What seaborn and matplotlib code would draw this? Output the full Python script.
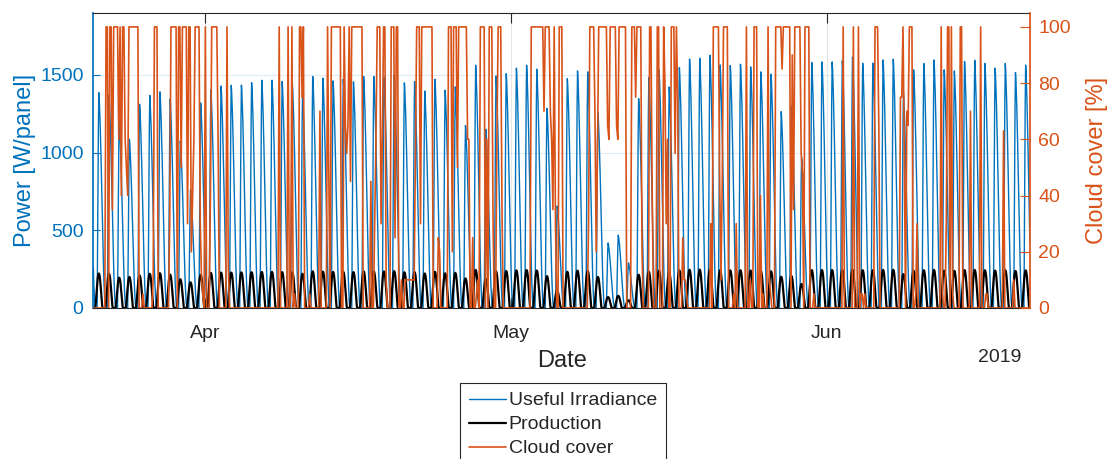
import numpy as np
import pandas as pd
import matplotlib
matplotlib.use("Agg")
import matplotlib.pyplot as plt
import matplotlib.dates as mdates
import seaborn as sns

# ---------------- data ----------------
start_date = "2019-03-21"
n_days = 92

# daily peak of useful irradiance [W/panel]
irr_peak = [1386, 1369, 1215, 1086, 1311, 1369, 1391, 1344, 1075, 760,
            1320, 1404, 1429, 1433, 1435, 1451, 1466, 1466, 1458, 1440,
            1380, 1490, 1479, 1462, 1473, 1456, 1490, 1490, 1487, 1498,
            1449, 1457, 1397, 1472, 1402, 1423, 1175, 1563, 1150, 1494,
            1508, 1544, 1563, 1537, 1285, 656, 1476, 1526, 1520, 1257,
            419, 469, 290, 1348, 1483, 1533, 1423, 1547, 1602, 1608,
            1627, 1565, 1560, 1569, 1552, 1520, 1505, 1264, 1300, 967,
            1580, 1584, 1584, 1591, 1615, 1576, 1576, 1597, 1602, 1386,
            1533, 1574, 1597, 1533, 1526, 1587, 1595, 1574, 1544, 1574,
            1516, 1563]

# daily peak of production [W/panel]
prod_peak = [222, 220, 195, 200, 210, 220, 224, 215, 185, 165,
             212, 226, 228, 228, 229, 230, 232, 232, 231, 229,
             220, 236, 234, 232, 233, 231, 236, 236, 235, 237,
             230, 231, 222, 233, 223, 226, 190, 245, 186, 236,
             238, 242, 244, 241, 205, 110, 233, 240, 239, 200,
             70, 78, 50, 214, 234, 240, 226, 242, 246, 247,
             248, 243, 242, 243, 241, 238, 236, 201, 206, 155,
             244, 244, 244, 245, 247, 243, 243, 245, 246, 218,
             240, 243, 245, 240, 239, 244, 245, 243, 241, 243,
             238, 242]

# hourly shape of irradiance, hours after 09:00 (fraction of daily peak)
irr_shape = [0.0, 0.3, 0.6, 0.85, 1.0, 0.97, 0.92, 0.86, 0.79, 0.71,
             0.62, 0.53, 0.44, 0.35, 0.27, 0.19, 0.12, 0.07, 0.03, 0.01,
             0.0, 0.0, 0.0, 0.0]
irr_start_hour = 9

# hourly shape of production by hour of day (fraction of daily peak)
prod_shape = [0.0, 0.0, 0.0, 0.0, 0.0, 0.05, 0.18, 0.35, 0.52, 0.68,
              0.82, 0.92, 0.98, 1.0, 0.98, 0.92, 0.82, 0.68, 0.52, 0.35,
              0.18, 0.05, 0.0, 0.0]

# cloud cover [%], 3-hourly samples (00,03,...,21 h) for each day
cloud_cover = [
    [0, 0, 0, 0, 0, 0, 0, 0],
    [0, 0, 100, 100, 0, 100, 100, 35],
    [100, 100, 100, 100, 60, 100, 40, 100],
    [100, 60, 50, 40, 100, 100, 100, 100],
    [100, 100, 100, 100, 0, 0, 0, 5],
    [0, 0, 0, 0, 0, 0, 0, 10],
    [100, 100, 100, 0, 0, 0, 0, 0],
    [0, 0, 0, 0, 30, 100, 100, 100],
    [100, 100, 0, 100, 100, 50, 100, 100],
    [100, 100, 30, 100, 100, 20, 40, 60],
    [100, 100, 100, 100, 30, 10, 5, 0],
    [100, 0, 0, 0, 40, 100, 100, 100],
    [100, 100, 60, 0, 0, 0, 0, 0],
    [0, 100, 15, 0, 0, 0, 0, 0],
    [0, 0, 0, 0, 0, 0, 0, 0],
    [0, 0, 0, 0, 0, 0, 0, 0],
    [0, 0, 0, 0, 0, 0, 0, 0],
    [0, 0, 0, 0, 0, 0, 0, 0],
    [0, 0, 100, 0, 0, 0, 0, 0],
    [0, 100, 0, 5, 100, 0, 5, 0],
    [0, 0, 100, 100, 75, 100, 0, 0],
    [0, 0, 5, 0, 0, 0, 0, 0],
    [0, 0, 70, 0, 0, 0, 0, 0],
    [100, 45, 0, 100, 100, 100, 100, 100],
    [100, 100, 100, 0, 0, 100, 65, 55],
    [65, 100, 45, 100, 100, 100, 100, 100],
    [100, 100, 100, 100, 0, 0, 0, 0],
    [0, 0, 45, 0, 0, 30, 60, 100],
    [100, 100, 30, 60, 100, 100, 10, 0],
    [0, 0, 100, 100, 100, 25, 100, 100],
    [0, 0, 10, 0, 0, 10, 10, 10],
    [10, 10, 10, 10, 10, 55, 100, 100],
    [100, 30, 100, 100, 100, 100, 100, 100],
    [100, 100, 100, 0, 0, 0, 0, 25],
    [20, 0, 0, 0, 0, 0, 0, 100],
    [100, 100, 20, 100, 100, 100, 50, 100],
    [100, 100, 100, 100, 100, 100, 60, 60],
    [0, 0, 25, 0, 0, 5, 10, 0],
    [100, 100, 100, 100, 0, 60, 0, 100],
    [100, 100, 30, 0, 0, 60, 100, 100],
    [100, 35, 0, 0, 0, 0, 0, 0],
    [0, 0, 0, 0, 0, 0, 0, 0],
    [0, 0, 0, 0, 0, 0, 0, 0],
    [100, 100, 100, 100, 100, 100, 100, 100],
    [100, 100, 70, 100, 100, 100, 100, 70],
    [60, 35, 100, 30, 0, 0, 100, 100],
    [100, 0, 0, 0, 0, 0, 0, 0],
    [0, 0, 0, 0, 0, 0, 0, 0],
    [0, 0, 0, 0, 0, 30, 100, 100],
    [100, 100, 70, 20, 55, 100, 100, 100],
    [100, 100, 100, 100, 65, 60, 100, 100],
    [100, 100, 100, 65, 60, 100, 100, 100],
    [100, 100, 100, 0, 0, 0, 0, 100],
    [100, 100, 75, 100, 100, 100, 100, 20],
    [0, 0, 0, 0, 0, 100, 100, 40],
    [0, 0, 0, 100, 100, 0, 0, 0],
    [100, 80, 30, 60, 0, 0, 100, 100],
    [100, 55, 100, 75, 0, 0, 0, 25],
    [10, 10, 5, 0, 0, 0, 0, 0],
    [0, 0, 0, 0, 0, 0, 0, 0],
    [0, 0, 0, 0, 0, 30, 0, 100],
    [100, 100, 100, 100, 45, 10, 45, 100],
    [100, 100, 100, 0, 0, 0, 0, 5],
    [0, 30, 0, 0, 0, 0, 0, 0],
    [0, 100, 0, 0, 10, 0, 0, 100],
    [100, 100, 0, 0, 40, 0, 5, 0],
    [0, 0, 100, 10, 5, 0, 0, 0],
    [100, 100, 100, 100, 100, 85, 100, 100],
    [100, 100, 100, 100, 0, 90, 35, 100],
    [100, 100, 100, 100, 55, 48, 0, 100],
    [100, 100, 100, 0, 0, 0, 5, 0],
    [0, 0, 0, 0, 0, 0, 0, 0],
    [0, 0, 0, 0, 0, 0, 0, 0],
    [0, 0, 0, 0, 0, 100, 0, 0],
    [0, 0, 0, 0, 0, 100, 0, 0],
    [0, 100, 0, 5, 5, 0, 5, 0],
    [0, 0, 0, 0, 0, 0, 100, 100],
    [100, 65, 0, 0, 0, 0, 0, 0],
    [0, 0, 0, 0, 0, 0, 0, 0],
    [0, 0, 75, 75, 100, 55, 0, 70],
    [65, 100, 100, 100, 0, 0, 5, 30],
    [0, 0, 0, 0, 0, 0, 0, 0],
    [0, 0, 0, 0, 0, 0, 0, 0],
    [0, 0, 100, 5, 0, 0, 30, 100],
    [100, 0, 100, 5, 0, 0, 0, 0],
    [0, 100, 100, 0, 0, 0, 0, 0],
    [0, 70, 0, 0, 0, 0, 0, 0],
    [0, 100, 0, 0, 0, 5, 5, 0],
    [0, 0, 0, 0, 0, 0, 0, 0],
    [0, 0, 0, 63, 0, 0, 0, 0],
    [0, 0, 0, 10, 0, 0, 0, 0],
    [0, 0, 0, 0, 0, 0, 0, 0],
]

series_labels = ["Useful Irradiance", "Production", "Cloud cover"]

# ---------------- build tables ----------------
hours = pd.date_range(start_date, periods=n_days * 24, freq="h")
h = np.arange(len(hours))
cyc = np.clip((h - irr_start_hour) // 24, 0, n_days - 1)
pos = (h - irr_start_hour) % 24
irr = np.array(irr_peak, float)[cyc] * np.array(irr_shape)[pos]
prod = np.array(prod_peak, float)[h // 24] * np.array(prod_shape)[h % 24]
df_power = pd.DataFrame({"time": hours, "irr": irr, "prod": prod})

t3 = pd.date_range(start_date, periods=n_days * 8, freq="3h")
df_cloud = pd.DataFrame({"time": t3, "cc": np.concatenate(cloud_cover).astype(float)})

# ---------------- style ----------------
sns.set_theme(style="white")
plt.rcParams["font.family"] = ["Liberation Sans", "DejaVu Sans"]

BLUE = "#0072BD"
ORANGE = "#D95319"
DARK = "#262626"

fig = plt.figure(figsize=(11.11, 4.59), dpi=100)
ax = fig.add_axes([0.084, 0.329, 0.843, 0.643])
ax2 = ax.twinx()

sns.lineplot(data=df_power, x="time", y="irr", ax=ax, color=BLUE, lw=1.0,
             estimator=None, label=series_labels[0], legend=False)
sns.lineplot(data=df_power, x="time", y="prod", ax=ax, color="black", lw=1.6,
             estimator=None, label=series_labels[1], legend=False)
sns.lineplot(data=df_cloud, x="time", y="cc", ax=ax2, color=ORANGE, lw=1.2,
             estimator=None, label=series_labels[2], legend=False)

ax.set_xlim(hours[0], hours[-1])
ax.set_ylim(0, 1900)
ax2.set_ylim(0, 105)
ax.set_yticks([0, 500, 1000, 1500])
ax2.set_yticks([0, 20, 40, 60, 80, 100])

ax.xaxis.set_major_locator(mdates.MonthLocator())
ax.xaxis.set_major_formatter(mdates.DateFormatter("%b"))

ax.set_axisbelow(True)
ax.yaxis.grid(True, color=BLUE, alpha=0.13, lw=0.8)
ax.xaxis.grid(True, color="#999999", alpha=0.25, lw=0.8)

ax.tick_params(axis="y", direction="in", colors=BLUE, length=5, width=0.8,
               labelsize=14, pad=7)
ax.tick_params(axis="x", direction="in", colors=DARK, length=7, width=0.8,
               labelsize=14, pad=12, top=True, bottom=True)
ax2.tick_params(axis="y", direction="in", colors=ORANGE, length=7, width=0.8,
                labelsize=14, pad=6)

for s in ["top", "bottom"]:
    ax.spines[s].set_color(DARK)
    ax.spines[s].set_linewidth(0.8)
ax.spines["left"].set_color(BLUE)
ax.spines["right"].set_visible(False)
ax2.spines["right"].set_color(ORANGE)
for s in ["left", "top", "bottom"]:
    ax2.spines[s].set_visible(False)

ax.set_ylabel("Power [W/panel]", color=BLUE, fontsize=17, labelpad=3)
ax2.set_ylabel("Cloud cover [%]", color=ORANGE, fontsize=17, labelpad=11)
ax.set_xlabel("Date", color=DARK, fontsize=17, labelpad=6)

fig.text(1000 / 1111, 1 - 357 / 459, "2019", ha="center", va="center",
         fontsize=14, color=DARK)

handles = [ax.lines[0], ax.lines[1], ax2.lines[0]]
leg = fig.legend(handles, series_labels, loc="upper center",
                 bbox_to_anchor=(563 / 1111, 1 - 383 / 459), fontsize=14,
                 frameon=True, fancybox=False, framealpha=1,
                 edgecolor=DARK, handlelength=1.9, handletextpad=0.15,
                 labelspacing=0.33, borderpad=0.45, borderaxespad=0)
leg.get_frame().set_linewidth(0.8)

fig.savefig("out.png", dpi=100)
